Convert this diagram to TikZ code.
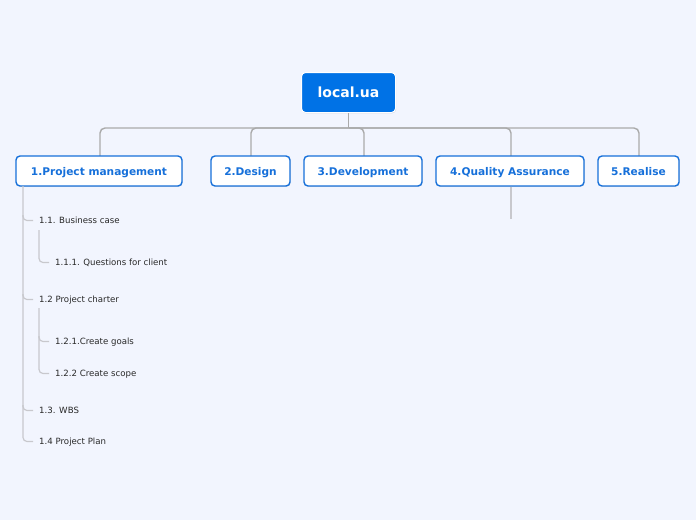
\documentclass[tikz,border=0pt]{standalone}
\usepackage{fontspec}
\setmainfont{DejaVu Sans}
\usetikzlibrary{shadows}
\definecolor{bgc}{RGB}{242,245,254}
\definecolor{rootblue}{RGB}{0,114,230}
\definecolor{topicblue}{RGB}{22,112,218}
\definecolor{busgray}{RGB}{170,170,170}
\definecolor{subgray}{RGB}{200,200,205}
\definecolor{subtextc}{RGB}{40,40,40}
\tikzset{
  x=1pt,y=1pt,
  rootbox/.style={draw=white, line width=1pt, fill=rootblue, rounded corners=4pt, text=white,
    font=\bfseries\fontsize{14}{16}\selectfont, minimum width=94pt, minimum height=40pt, inner sep=0pt,
    text depth=0pt, drop shadow={shadow xshift=0.6pt, shadow yshift=-0.8pt, opacity=0.25}},
  topicbox/.style={draw=topicblue, line width=1.4pt, fill=white, rounded corners=4pt, text=topicblue,
    font=\bfseries\fontsize{10.6}{12}\selectfont, minimum height=30pt, inner sep=0pt, text depth=0pt,
    drop shadow={shadow xshift=0.6pt, shadow yshift=-0.8pt, opacity=0.25}},
  subtext/.style={anchor=west, inner sep=0pt, text=subtextc, font=\fontsize{8.6}{10}\selectfont, text depth=0pt},
  busline/.style={draw=busgray, line width=1.4pt, rounded corners=5pt},
  subline/.style={draw=subgray, line width=1.2pt, rounded corners=4pt},
}
\begin{document}
\begin{tikzpicture}
\fill[bgc] (0,0) rectangle (696,-520);
\useasboundingbox (0,0) rectangle (696,-520);

\coordinate (bus) at (349,-128);
\foreach \x in {100,251,364,511,639}{
  \draw[busline] (bus) -| (\x,-156);
}

\node[rootbox] (root) at (348.5,-92.5) {local.ua};
\draw[busline] (root.south) -- (root.south |- bus);

\node[topicbox, minimum width=166pt] (c1) at (99,-171) {1.Project management};
\node[topicbox, minimum width=79pt] (c2) at (250.5,-171) {2.Design};
\node[topicbox, minimum width=118pt] (c3) at (363,-171) {3.Development};
\node[topicbox, minimum width=148pt] (c4) at (510,-171) {4.Quality Assurance};
\node[topicbox, minimum width=81pt] (c5) at (638.5,-171) {5.Realise};

% quality assurance stub
\coordinate (qa) at (511,-219);
\draw[subline] ([xshift=1pt]c4.south) -- (qa);

% project management subtree
\node[subtext] (s11) at (39,-220) {1.1. Business case};
\node[subtext] (s111) at (55,-262) {1.1.1. Questions for client};
\node[subtext] (s12) at (39,-299) {1.2 Project charter};
\node[subtext] (s121) at (55,-341) {1.2.1.Create goals};
\node[subtext] (s122) at (55,-373) {1.2.2 Create scope};
\node[subtext] (s13) at (39,-410) {1.3. WBS};
\node[subtext] (s14) at (39,-441) {1.4 Project Plan};

\coordinate (p1) at (23,-186);
\draw[subline] (p1) |- ([xshift=-6pt,yshift=-0.5pt]s14.west);
\foreach \s in {s11,s12,s13}{
  \draw[subline] ([yshift=5pt]\s.west -| p1) |- ([xshift=-6pt,yshift=-0.5pt]\s.west);
}
\coordinate (p11) at (39,-230);
\draw[subline] (p11) |- ([xshift=-6pt,yshift=-0.5pt]s111.west);
\coordinate (p12) at (39,-308);
\draw[subline] (p12) |- ([xshift=-6pt,yshift=-0.5pt]s122.west);
\draw[subline] ([yshift=5pt]s121.west -| p12) |- ([xshift=-6pt,yshift=-0.5pt]s121.west);
\end{tikzpicture}
\end{document}
